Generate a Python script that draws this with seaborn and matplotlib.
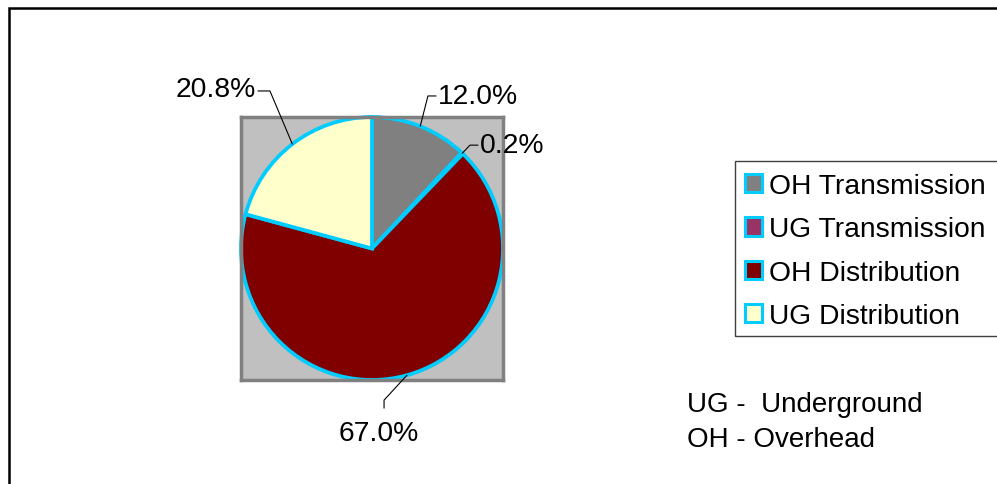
import numpy as np
import matplotlib
matplotlib.use("Agg")
import matplotlib.pyplot as plt
from matplotlib.patches import Patch, Rectangle
import seaborn as sns

# data
categories = ["OH Transmission", "UG Transmission", "OH Distribution", "UG Distribution"]
shares = [12.0, 0.2, 67.0, 20.8]
pct_labels = ["12.0%", "0.2%", "67.0%", "20.8%"]
colors = ["#808080", "#993366", "#800000", "#FFFFCC"]
notes = ["UG -  Underground", "OH - Overhead"]

EDGE = "#00CCFF"
FS = 20.3

sns.set_style("white")
plt.rcParams["font.family"] = ["Liberation Sans", "DejaVu Sans"]
plt.rcParams["text.color"] = "black"

fig = plt.figure(figsize=(9.97, 4.85), dpi=100)
W, H = 997, 485

# outer frame (runs off the right and bottom edge)
fig.patches.append(Rectangle((9 / W, -0.1), 1.2, 1 - 9 / H + 0.1, transform=fig.transFigure,
                             fill=False, edgecolor="black", linewidth=1.8, zorder=0))

# plot area box around the pie
ax = fig.add_axes([241 / W, 1 - 381 / H, 262 / W, 263 / H])
wedges, _ = ax.pie(shares, colors=colors, startangle=90, counterclock=False, radius=1,
                   frame=True, wedgeprops=dict(edgecolor=EDGE, linewidth=2.7))
ax.set_frame_on(True)
ax.set_facecolor("#C0C0C0")
for s in ax.spines.values():
    s.set_visible(True)
    s.set_color("#808080")
    s.set_linewidth(2.5)
ax.set_xlim(-1.0, 1.0)
ax.set_ylim(-1.0, 1.0)
ax.set_aspect("auto")
ax.set_xticks([])
ax.set_yticks([])

# label layout: text anchor, elbow point, line end, alignment (pie radius units)
label_layout = [
    ((0.50, 1.16), (0.427, 1.16), (0.489, 1.16), "left"),
    ((0.82, 0.786), (0.748, 0.786), (0.809, 0.786), "left"),
    ((0.053, -1.40), (0.092, -1.153), (0.092, -1.214), "center"),
    ((-0.885, 1.21), (-0.779, 1.198), (-0.870, 1.198), "right"),
]
for w, lab, (txt, elbow, end, ha) in zip(wedges, pct_labels, label_layout):
    mid = np.deg2rad((w.theta1 + w.theta2) / 2)
    p0 = (np.cos(mid), np.sin(mid))
    ax.plot([p0[0], elbow[0], end[0]], [p0[1], elbow[1], end[1]], color="black",
            linewidth=0.8, clip_on=False, zorder=5)
    ax.text(txt[0], txt[1], lab, ha=ha, va="center", fontsize=FS, clip_on=False)

# legend box drawn separately so it can run off the right edge like the original
fig.patches.append(Rectangle((735 / W, 1 - 337 / H), 300 / W, 175 / H, transform=fig.transFigure,
                             fill=False, edgecolor="#404040", linewidth=1.0))
handles = [Patch(facecolor=c, edgecolor=EDGE, linewidth=2.2) for c in colors]
leg = fig.legend(handles, categories, loc="upper left", bbox_to_anchor=(742 / W, 1 - 171 / H),
                 fontsize=FS, frameon=False,
                 handlelength=0.62, handleheight=0.62, handletextpad=0.25,
                 labelspacing=0.62, borderpad=0.1, borderaxespad=0)

for i, note in enumerate(notes):
    fig.text(687 / W, 1 - (405 + 35 * i) / H, note, ha="left", va="center", fontsize=FS - 0.3)

fig.savefig("out.png", dpi=100)
